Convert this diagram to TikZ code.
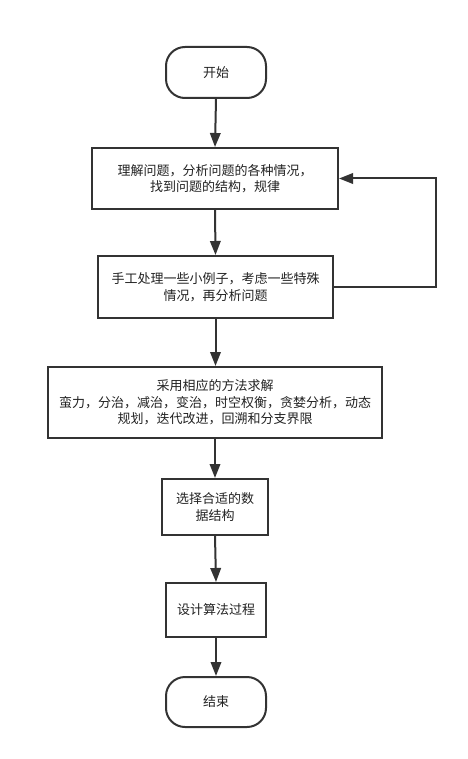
\documentclass[tikz,border=0pt]{standalone}
\usepackage{fontspec}
\newfontfamily\cjk{Noto Sans CJK SC}
\usetikzlibrary{arrows.meta}
\definecolor{ln}{HTML}{333333}
\definecolor{tx}{HTML}{222222}
\tikzset{
  box/.style={draw=ln, line width=2pt, fill=white, inner sep=0pt, align=center,
    text=tx, font=\cjk\fontsize{13}{16.5}\selectfont},
  term/.style={box, rounded corners=19pt},
  arr/.style={draw=ln, line width=2pt, -{Triangle[length=14pt,width=10.5pt]}}
}
\begin{document}
\begin{tikzpicture}[x=1pt,y=-1pt]
\useasboundingbox[fill=white] (0,0) rectangle (467,759);
\node[term, minimum width=100pt, minimum height=51pt] (s) at (216,72.5) {开始};
\node[box, minimum width=246pt, minimum height=61pt] (b1) at (215,178.5) {理解问题，分析问题的各种情况，\\找到问题的结构，规律};
\node[box, minimum width=235pt, minimum height=62pt] (b2) at (215.5,287) {手工处理一些小例子，考虑一些特殊\\情况，再分析问题};
\node[box, minimum width=334pt, minimum height=71pt] (b3) at (215,402.5) {采用相应的方法求解\\蛮力，分治，减治，变治，时空权衡，贪婪分析，动态\\规划，迭代改进，回溯和分支界限};
\node[box, minimum width=106pt, minimum height=56pt] (b4) at (215,507) {选择合适的数\\据结构};
\node[box, minimum width=100pt, minimum height=54pt] (b5) at (216,610) {设计算法过程};
\node[term, minimum width=100pt, minimum height=50pt] (e) at (216,702) {结束};
\coordinate (lp) at (436,287);
\draw[arr] (s.south) -- (b1.north);
\draw[arr] (b1.south) -- (b2.north);
\draw[arr] (b2.south) -- (b2.south |- b3.north);
\draw[arr] (b3.south -| b4.north) -- (b4.north);
\draw[arr] (b4.south) -- (b5.north);
\draw[arr] (b5.south) -- (e.north);
\draw[arr] (b2.east) -- (lp) |- (b1.east);
\end{tikzpicture}
\end{document}
